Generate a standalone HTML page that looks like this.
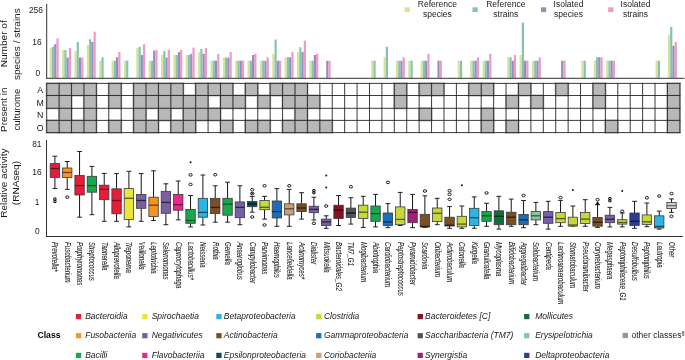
<!DOCTYPE html><html><head><meta charset="utf-8"><style>html,body{margin:0;padding:0;background:#fff;}svg{display:block;will-change:transform;}text{font-family:"Liberation Sans",sans-serif;fill:#1a1a1a;}</style></head><body>
<svg width="685" height="360" viewBox="0 0 685 360">
<rect x="49.70" y="48.00" width="2.20" height="29.90" fill="#d9e29b"/>
<rect x="51.95" y="46.70" width="2.20" height="31.20" fill="#83c5ac"/>
<rect x="54.20" y="44.20" width="2.20" height="33.70" fill="#938dc4"/>
<rect x="56.45" y="38.30" width="2.20" height="39.60" fill="#ef9ac0"/>
<rect x="62.06" y="50.00" width="2.20" height="27.90" fill="#d9e29b"/>
<rect x="64.31" y="50.00" width="2.20" height="27.90" fill="#83c5ac"/>
<rect x="66.56" y="57.50" width="2.20" height="20.40" fill="#938dc4"/>
<rect x="68.81" y="48.00" width="2.20" height="29.90" fill="#ef9ac0"/>
<rect x="74.43" y="51.00" width="2.20" height="26.90" fill="#d9e29b"/>
<rect x="76.68" y="42.00" width="2.20" height="35.90" fill="#83c5ac"/>
<rect x="78.93" y="57.50" width="2.20" height="20.40" fill="#938dc4"/>
<rect x="81.18" y="57.50" width="2.20" height="20.40" fill="#ef9ac0"/>
<rect x="86.79" y="45.00" width="2.20" height="32.90" fill="#d9e29b"/>
<rect x="89.04" y="39.20" width="2.20" height="38.70" fill="#83c5ac"/>
<rect x="91.29" y="42.00" width="2.20" height="35.90" fill="#938dc4"/>
<rect x="93.54" y="31.70" width="2.20" height="46.20" fill="#ef9ac0"/>
<rect x="99.16" y="60.70" width="2.20" height="17.20" fill="#d9e29b"/>
<rect x="101.41" y="57.30" width="2.20" height="20.60" fill="#83c5ac"/>
<rect x="111.52" y="60.70" width="2.20" height="17.20" fill="#d9e29b"/>
<rect x="113.77" y="60.70" width="2.20" height="17.20" fill="#83c5ac"/>
<rect x="116.02" y="57.30" width="2.20" height="20.60" fill="#938dc4"/>
<rect x="118.27" y="52.10" width="2.20" height="25.80" fill="#ef9ac0"/>
<rect x="123.88" y="60.70" width="2.20" height="17.20" fill="#d9e29b"/>
<rect x="126.13" y="60.70" width="2.20" height="17.20" fill="#83c5ac"/>
<rect x="136.25" y="48.10" width="2.20" height="29.80" fill="#d9e29b"/>
<rect x="138.50" y="46.80" width="2.20" height="31.10" fill="#83c5ac"/>
<rect x="140.75" y="55.00" width="2.20" height="22.90" fill="#938dc4"/>
<rect x="143.00" y="44.20" width="2.20" height="33.70" fill="#ef9ac0"/>
<rect x="148.61" y="60.70" width="2.20" height="17.20" fill="#d9e29b"/>
<rect x="150.86" y="60.70" width="2.20" height="17.20" fill="#83c5ac"/>
<rect x="153.11" y="50.70" width="2.20" height="27.20" fill="#938dc4"/>
<rect x="155.36" y="49.90" width="2.20" height="28.00" fill="#ef9ac0"/>
<rect x="160.98" y="55.00" width="2.20" height="22.90" fill="#d9e29b"/>
<rect x="163.23" y="51.10" width="2.20" height="26.80" fill="#83c5ac"/>
<rect x="165.48" y="57.60" width="2.20" height="20.30" fill="#938dc4"/>
<rect x="167.73" y="49.90" width="2.20" height="28.00" fill="#ef9ac0"/>
<rect x="173.34" y="55.00" width="2.20" height="22.90" fill="#d9e29b"/>
<rect x="175.59" y="55.00" width="2.20" height="22.90" fill="#83c5ac"/>
<rect x="177.84" y="52.10" width="2.20" height="25.80" fill="#938dc4"/>
<rect x="180.09" y="49.90" width="2.20" height="28.00" fill="#ef9ac0"/>
<rect x="185.70" y="55.00" width="2.20" height="22.90" fill="#d9e29b"/>
<rect x="187.95" y="55.00" width="2.20" height="22.90" fill="#83c5ac"/>
<rect x="190.20" y="53.80" width="2.20" height="24.10" fill="#938dc4"/>
<rect x="192.45" y="47.60" width="2.20" height="30.30" fill="#ef9ac0"/>
<rect x="198.07" y="52.10" width="2.20" height="25.80" fill="#d9e29b"/>
<rect x="200.32" y="49.00" width="2.20" height="28.90" fill="#83c5ac"/>
<rect x="202.57" y="53.80" width="2.20" height="24.10" fill="#938dc4"/>
<rect x="204.82" y="48.10" width="2.20" height="29.80" fill="#ef9ac0"/>
<rect x="210.43" y="60.70" width="2.20" height="17.20" fill="#d9e29b"/>
<rect x="212.68" y="60.70" width="2.20" height="17.20" fill="#83c5ac"/>
<rect x="214.93" y="60.70" width="2.20" height="17.20" fill="#938dc4"/>
<rect x="217.18" y="53.80" width="2.20" height="24.10" fill="#ef9ac0"/>
<rect x="222.80" y="57.60" width="2.20" height="20.30" fill="#d9e29b"/>
<rect x="225.05" y="57.60" width="2.20" height="20.30" fill="#83c5ac"/>
<rect x="227.30" y="57.60" width="2.20" height="20.30" fill="#938dc4"/>
<rect x="229.55" y="52.10" width="2.20" height="25.80" fill="#ef9ac0"/>
<rect x="235.16" y="60.70" width="2.20" height="17.20" fill="#d9e29b"/>
<rect x="237.41" y="60.70" width="2.20" height="17.20" fill="#83c5ac"/>
<rect x="239.66" y="60.70" width="2.20" height="17.20" fill="#938dc4"/>
<rect x="241.91" y="60.70" width="2.20" height="17.20" fill="#ef9ac0"/>
<rect x="247.52" y="60.70" width="2.20" height="17.20" fill="#d9e29b"/>
<rect x="249.77" y="60.70" width="2.20" height="17.20" fill="#83c5ac"/>
<rect x="252.02" y="55.00" width="2.20" height="22.90" fill="#938dc4"/>
<rect x="254.27" y="53.70" width="2.20" height="24.20" fill="#ef9ac0"/>
<rect x="259.89" y="60.70" width="2.20" height="17.20" fill="#d9e29b"/>
<rect x="262.14" y="60.70" width="2.20" height="17.20" fill="#83c5ac"/>
<rect x="264.39" y="60.70" width="2.20" height="17.20" fill="#938dc4"/>
<rect x="266.64" y="57.30" width="2.20" height="20.60" fill="#ef9ac0"/>
<rect x="272.25" y="53.80" width="2.20" height="24.10" fill="#d9e29b"/>
<rect x="274.50" y="39.50" width="2.20" height="38.40" fill="#83c5ac"/>
<rect x="276.75" y="60.70" width="2.20" height="17.20" fill="#938dc4"/>
<rect x="279.00" y="60.70" width="2.20" height="17.20" fill="#ef9ac0"/>
<rect x="284.62" y="57.30" width="2.20" height="20.60" fill="#d9e29b"/>
<rect x="286.87" y="57.30" width="2.20" height="20.60" fill="#83c5ac"/>
<rect x="289.12" y="57.30" width="2.20" height="20.60" fill="#938dc4"/>
<rect x="291.37" y="52.10" width="2.20" height="25.80" fill="#ef9ac0"/>
<rect x="296.98" y="52.10" width="2.20" height="25.80" fill="#d9e29b"/>
<rect x="299.23" y="47.30" width="2.20" height="30.60" fill="#83c5ac"/>
<rect x="301.48" y="52.10" width="2.20" height="25.80" fill="#938dc4"/>
<rect x="303.73" y="40.70" width="2.20" height="37.20" fill="#ef9ac0"/>
<rect x="309.34" y="60.70" width="2.20" height="17.20" fill="#d9e29b"/>
<rect x="311.59" y="60.70" width="2.20" height="17.20" fill="#83c5ac"/>
<rect x="313.84" y="55.00" width="2.20" height="22.90" fill="#938dc4"/>
<rect x="316.09" y="53.70" width="2.20" height="24.20" fill="#ef9ac0"/>
<rect x="326.21" y="60.70" width="2.20" height="17.20" fill="#938dc4"/>
<rect x="328.46" y="60.70" width="2.20" height="17.20" fill="#ef9ac0"/>
<rect x="371.16" y="60.70" width="2.20" height="17.20" fill="#d9e29b"/>
<rect x="373.41" y="60.70" width="2.20" height="17.20" fill="#83c5ac"/>
<rect x="383.53" y="57.30" width="2.20" height="20.60" fill="#d9e29b"/>
<rect x="385.78" y="46.80" width="2.20" height="31.10" fill="#83c5ac"/>
<rect x="395.89" y="60.70" width="2.20" height="17.20" fill="#d9e29b"/>
<rect x="398.14" y="60.70" width="2.20" height="17.20" fill="#83c5ac"/>
<rect x="400.39" y="60.70" width="2.20" height="17.20" fill="#938dc4"/>
<rect x="402.64" y="57.30" width="2.20" height="20.60" fill="#ef9ac0"/>
<rect x="408.26" y="60.70" width="2.20" height="17.20" fill="#d9e29b"/>
<rect x="410.51" y="60.70" width="2.20" height="17.20" fill="#83c5ac"/>
<rect x="420.62" y="60.70" width="2.20" height="17.20" fill="#d9e29b"/>
<rect x="422.87" y="60.70" width="2.20" height="17.20" fill="#83c5ac"/>
<rect x="425.12" y="60.70" width="2.20" height="17.20" fill="#938dc4"/>
<rect x="427.37" y="53.70" width="2.20" height="24.20" fill="#ef9ac0"/>
<rect x="437.48" y="60.70" width="2.20" height="17.20" fill="#938dc4"/>
<rect x="439.73" y="60.70" width="2.20" height="17.20" fill="#ef9ac0"/>
<rect x="457.71" y="60.70" width="2.20" height="17.20" fill="#d9e29b"/>
<rect x="459.96" y="60.70" width="2.20" height="17.20" fill="#83c5ac"/>
<rect x="470.08" y="60.70" width="2.20" height="17.20" fill="#d9e29b"/>
<rect x="472.33" y="60.70" width="2.20" height="17.20" fill="#83c5ac"/>
<rect x="474.58" y="60.70" width="2.20" height="17.20" fill="#938dc4"/>
<rect x="476.83" y="57.30" width="2.20" height="20.60" fill="#ef9ac0"/>
<rect x="482.44" y="60.70" width="2.20" height="17.20" fill="#d9e29b"/>
<rect x="484.69" y="60.70" width="2.20" height="17.20" fill="#83c5ac"/>
<rect x="486.94" y="60.70" width="2.20" height="17.20" fill="#938dc4"/>
<rect x="489.19" y="53.70" width="2.20" height="24.20" fill="#ef9ac0"/>
<rect x="507.17" y="57.30" width="2.20" height="20.60" fill="#d9e29b"/>
<rect x="509.42" y="57.30" width="2.20" height="20.60" fill="#83c5ac"/>
<rect x="511.67" y="60.70" width="2.20" height="17.20" fill="#938dc4"/>
<rect x="513.92" y="55.00" width="2.20" height="22.90" fill="#ef9ac0"/>
<rect x="519.53" y="55.00" width="2.20" height="22.90" fill="#d9e29b"/>
<rect x="521.78" y="22.60" width="2.20" height="55.30" fill="#83c5ac"/>
<rect x="524.03" y="60.70" width="2.20" height="17.20" fill="#938dc4"/>
<rect x="526.28" y="60.70" width="2.20" height="17.20" fill="#ef9ac0"/>
<rect x="531.90" y="60.70" width="2.20" height="17.20" fill="#d9e29b"/>
<rect x="534.15" y="60.70" width="2.20" height="17.20" fill="#83c5ac"/>
<rect x="536.40" y="60.70" width="2.20" height="17.20" fill="#938dc4"/>
<rect x="538.65" y="57.30" width="2.20" height="20.60" fill="#ef9ac0"/>
<rect x="561.12" y="60.70" width="2.20" height="17.20" fill="#938dc4"/>
<rect x="563.37" y="60.70" width="2.20" height="17.20" fill="#ef9ac0"/>
<rect x="581.35" y="60.70" width="2.20" height="17.20" fill="#d9e29b"/>
<rect x="583.60" y="60.70" width="2.20" height="17.20" fill="#83c5ac"/>
<rect x="593.72" y="60.70" width="2.20" height="17.20" fill="#d9e29b"/>
<rect x="595.97" y="57.30" width="2.20" height="20.60" fill="#83c5ac"/>
<rect x="598.22" y="57.30" width="2.20" height="20.60" fill="#938dc4"/>
<rect x="600.47" y="57.30" width="2.20" height="20.60" fill="#ef9ac0"/>
<rect x="606.08" y="60.70" width="2.20" height="17.20" fill="#d9e29b"/>
<rect x="608.33" y="60.70" width="2.20" height="17.20" fill="#83c5ac"/>
<rect x="610.58" y="60.70" width="2.20" height="17.20" fill="#938dc4"/>
<rect x="612.83" y="60.70" width="2.20" height="17.20" fill="#ef9ac0"/>
<rect x="655.54" y="60.70" width="2.20" height="17.20" fill="#d9e29b"/>
<rect x="657.79" y="60.70" width="2.20" height="17.20" fill="#83c5ac"/>
<rect x="667.90" y="34.60" width="2.20" height="43.30" fill="#d9e29b"/>
<rect x="670.15" y="26.90" width="2.20" height="51.00" fill="#83c5ac"/>
<rect x="672.40" y="45.80" width="2.20" height="32.10" fill="#938dc4"/>
<rect x="674.65" y="42.00" width="2.20" height="35.90" fill="#ef9ac0"/>
<line x1="46.7" y1="3.8" x2="46.7" y2="78.8" stroke="#333" stroke-width="1"/>
<line x1="46.2" y1="78.3" x2="684.5" y2="78.3" stroke="#333" stroke-width="1"/>
<text x="42.9" y="12.9" font-size="8.4" text-anchor="end">256</text>
<text x="41.6" y="45.3" font-size="8.4" text-anchor="end">16</text>
<text x="40.2" y="76.1" font-size="8.4" text-anchor="end">0</text>
<text transform="translate(7.3,67.3) rotate(-90)" font-size="8.6" textLength="47" lengthAdjust="spacingAndGlyphs">Number of</text>
<text transform="translate(19.5,80.1) rotate(-90)" font-size="9.6" textLength="71.8" lengthAdjust="spacingAndGlyphs">species / strains</text>
<rect x="404.5" y="7.3" width="5.2" height="4.8" fill="#d9e29b"/>
<text x="437.4" y="6.6" font-size="8.5" text-anchor="middle">Reference</text>
<text x="437.4" y="16.7" font-size="8.5" text-anchor="middle">species</text>
<rect x="472.5" y="7.3" width="5.2" height="4.8" fill="#83c5ac"/>
<text x="505.8" y="6.6" font-size="8.5" text-anchor="middle">Reference</text>
<text x="505.8" y="16.7" font-size="8.5" text-anchor="middle">strains</text>
<rect x="541.0" y="7.3" width="5.2" height="4.8" fill="#938dc4"/>
<text x="568.5" y="6.6" font-size="8.5" text-anchor="middle">Isolated</text>
<text x="568.5" y="16.7" font-size="8.5" text-anchor="middle">species</text>
<rect x="608.2" y="7.3" width="5.2" height="4.8" fill="#ef9ac0"/>
<text x="635.5" y="6.6" font-size="8.5" text-anchor="middle">Isolated</text>
<text x="635.5" y="16.7" font-size="8.5" text-anchor="middle">strains</text>
<rect x="46.70" y="83.40" width="12.41" height="12.10" fill="#b8b8b8" stroke="#aeaeae" stroke-width="2"/>
<rect x="46.70" y="95.50" width="12.41" height="12.80" fill="#b8b8b8" stroke="#aeaeae" stroke-width="2"/>
<rect x="46.70" y="120.40" width="12.41" height="12.20" fill="#b8b8b8" stroke="#aeaeae" stroke-width="2"/>
<rect x="59.12" y="83.40" width="12.41" height="12.10" fill="#b8b8b8" stroke="#aeaeae" stroke-width="2"/>
<rect x="59.12" y="95.50" width="12.41" height="12.80" fill="#b8b8b8" stroke="#aeaeae" stroke-width="2"/>
<rect x="59.12" y="108.30" width="12.41" height="12.10" fill="#b8b8b8" stroke="#aeaeae" stroke-width="2"/>
<rect x="59.12" y="120.40" width="12.41" height="12.20" fill="#b8b8b8" stroke="#aeaeae" stroke-width="2"/>
<rect x="71.53" y="83.40" width="12.41" height="12.10" fill="#b8b8b8" stroke="#aeaeae" stroke-width="2"/>
<rect x="71.53" y="120.40" width="12.41" height="12.20" fill="#b8b8b8" stroke="#aeaeae" stroke-width="2"/>
<rect x="83.94" y="83.40" width="12.41" height="12.10" fill="#b8b8b8" stroke="#aeaeae" stroke-width="2"/>
<rect x="83.94" y="95.50" width="12.41" height="12.80" fill="#b8b8b8" stroke="#aeaeae" stroke-width="2"/>
<rect x="83.94" y="108.30" width="12.41" height="12.10" fill="#b8b8b8" stroke="#aeaeae" stroke-width="2"/>
<rect x="83.94" y="120.40" width="12.41" height="12.20" fill="#b8b8b8" stroke="#aeaeae" stroke-width="2"/>
<rect x="108.78" y="83.40" width="12.41" height="12.10" fill="#b8b8b8" stroke="#aeaeae" stroke-width="2"/>
<rect x="108.78" y="95.50" width="12.41" height="12.80" fill="#b8b8b8" stroke="#aeaeae" stroke-width="2"/>
<rect x="108.78" y="120.40" width="12.41" height="12.20" fill="#b8b8b8" stroke="#aeaeae" stroke-width="2"/>
<rect x="133.61" y="83.40" width="12.41" height="12.10" fill="#b8b8b8" stroke="#aeaeae" stroke-width="2"/>
<rect x="133.61" y="95.50" width="12.41" height="12.80" fill="#b8b8b8" stroke="#aeaeae" stroke-width="2"/>
<rect x="133.61" y="108.30" width="12.41" height="12.10" fill="#b8b8b8" stroke="#aeaeae" stroke-width="2"/>
<rect x="133.61" y="120.40" width="12.41" height="12.20" fill="#b8b8b8" stroke="#aeaeae" stroke-width="2"/>
<rect x="146.02" y="83.40" width="12.41" height="12.10" fill="#b8b8b8" stroke="#aeaeae" stroke-width="2"/>
<rect x="146.02" y="95.50" width="12.41" height="12.80" fill="#b8b8b8" stroke="#aeaeae" stroke-width="2"/>
<rect x="146.02" y="120.40" width="12.41" height="12.20" fill="#b8b8b8" stroke="#aeaeae" stroke-width="2"/>
<rect x="158.44" y="83.40" width="12.41" height="12.10" fill="#b8b8b8" stroke="#aeaeae" stroke-width="2"/>
<rect x="158.44" y="95.50" width="12.41" height="12.80" fill="#b8b8b8" stroke="#aeaeae" stroke-width="2"/>
<rect x="158.44" y="108.30" width="12.41" height="12.10" fill="#b8b8b8" stroke="#aeaeae" stroke-width="2"/>
<rect x="170.85" y="83.40" width="12.41" height="12.10" fill="#b8b8b8" stroke="#aeaeae" stroke-width="2"/>
<rect x="170.85" y="95.50" width="12.41" height="12.80" fill="#b8b8b8" stroke="#aeaeae" stroke-width="2"/>
<rect x="170.85" y="120.40" width="12.41" height="12.20" fill="#b8b8b8" stroke="#aeaeae" stroke-width="2"/>
<rect x="183.26" y="95.50" width="12.41" height="12.80" fill="#b8b8b8" stroke="#aeaeae" stroke-width="2"/>
<rect x="183.26" y="108.30" width="12.41" height="12.10" fill="#b8b8b8" stroke="#aeaeae" stroke-width="2"/>
<rect x="183.26" y="120.40" width="12.41" height="12.20" fill="#b8b8b8" stroke="#aeaeae" stroke-width="2"/>
<rect x="195.68" y="83.40" width="12.41" height="12.10" fill="#b8b8b8" stroke="#aeaeae" stroke-width="2"/>
<rect x="195.68" y="95.50" width="12.41" height="12.80" fill="#b8b8b8" stroke="#aeaeae" stroke-width="2"/>
<rect x="195.68" y="108.30" width="12.41" height="12.10" fill="#b8b8b8" stroke="#aeaeae" stroke-width="2"/>
<rect x="208.09" y="83.40" width="12.41" height="12.10" fill="#b8b8b8" stroke="#aeaeae" stroke-width="2"/>
<rect x="208.09" y="108.30" width="12.41" height="12.10" fill="#b8b8b8" stroke="#aeaeae" stroke-width="2"/>
<rect x="220.51" y="83.40" width="12.41" height="12.10" fill="#b8b8b8" stroke="#aeaeae" stroke-width="2"/>
<rect x="220.51" y="95.50" width="12.41" height="12.80" fill="#b8b8b8" stroke="#aeaeae" stroke-width="2"/>
<rect x="220.51" y="120.40" width="12.41" height="12.20" fill="#b8b8b8" stroke="#aeaeae" stroke-width="2"/>
<rect x="232.93" y="95.50" width="12.41" height="12.80" fill="#b8b8b8" stroke="#aeaeae" stroke-width="2"/>
<rect x="245.34" y="83.40" width="12.41" height="12.10" fill="#b8b8b8" stroke="#aeaeae" stroke-width="2"/>
<rect x="245.34" y="120.40" width="12.41" height="12.20" fill="#b8b8b8" stroke="#aeaeae" stroke-width="2"/>
<rect x="257.75" y="95.50" width="12.41" height="12.80" fill="#b8b8b8" stroke="#aeaeae" stroke-width="2"/>
<rect x="257.75" y="120.40" width="12.41" height="12.20" fill="#b8b8b8" stroke="#aeaeae" stroke-width="2"/>
<rect x="270.17" y="83.40" width="12.41" height="12.10" fill="#b8b8b8" stroke="#aeaeae" stroke-width="2"/>
<rect x="282.58" y="83.40" width="12.41" height="12.10" fill="#b8b8b8" stroke="#aeaeae" stroke-width="2"/>
<rect x="282.58" y="95.50" width="12.41" height="12.80" fill="#b8b8b8" stroke="#aeaeae" stroke-width="2"/>
<rect x="282.58" y="120.40" width="12.41" height="12.20" fill="#b8b8b8" stroke="#aeaeae" stroke-width="2"/>
<rect x="295.00" y="83.40" width="12.41" height="12.10" fill="#b8b8b8" stroke="#aeaeae" stroke-width="2"/>
<rect x="295.00" y="95.50" width="12.41" height="12.80" fill="#b8b8b8" stroke="#aeaeae" stroke-width="2"/>
<rect x="295.00" y="108.30" width="12.41" height="12.10" fill="#b8b8b8" stroke="#aeaeae" stroke-width="2"/>
<rect x="295.00" y="120.40" width="12.41" height="12.20" fill="#b8b8b8" stroke="#aeaeae" stroke-width="2"/>
<rect x="307.41" y="95.50" width="12.41" height="12.80" fill="#b8b8b8" stroke="#aeaeae" stroke-width="2"/>
<rect x="307.41" y="120.40" width="12.41" height="12.20" fill="#b8b8b8" stroke="#aeaeae" stroke-width="2"/>
<rect x="319.83" y="120.40" width="12.41" height="12.20" fill="#b8b8b8" stroke="#aeaeae" stroke-width="2"/>
<rect x="394.32" y="83.40" width="12.41" height="12.10" fill="#b8b8b8" stroke="#aeaeae" stroke-width="2"/>
<rect x="394.32" y="95.50" width="12.41" height="12.80" fill="#b8b8b8" stroke="#aeaeae" stroke-width="2"/>
<rect x="419.15" y="83.40" width="12.41" height="12.10" fill="#b8b8b8" stroke="#aeaeae" stroke-width="2"/>
<rect x="419.15" y="108.30" width="12.41" height="12.10" fill="#b8b8b8" stroke="#aeaeae" stroke-width="2"/>
<rect x="431.56" y="83.40" width="12.41" height="12.10" fill="#b8b8b8" stroke="#aeaeae" stroke-width="2"/>
<rect x="468.81" y="83.40" width="12.41" height="12.10" fill="#b8b8b8" stroke="#aeaeae" stroke-width="2"/>
<rect x="481.22" y="83.40" width="12.41" height="12.10" fill="#b8b8b8" stroke="#aeaeae" stroke-width="2"/>
<rect x="481.22" y="108.30" width="12.41" height="12.10" fill="#b8b8b8" stroke="#aeaeae" stroke-width="2"/>
<rect x="481.22" y="120.40" width="12.41" height="12.20" fill="#b8b8b8" stroke="#aeaeae" stroke-width="2"/>
<rect x="506.05" y="95.50" width="12.41" height="12.80" fill="#b8b8b8" stroke="#aeaeae" stroke-width="2"/>
<rect x="506.05" y="120.40" width="12.41" height="12.20" fill="#b8b8b8" stroke="#aeaeae" stroke-width="2"/>
<rect x="518.47" y="83.40" width="12.41" height="12.10" fill="#b8b8b8" stroke="#aeaeae" stroke-width="2"/>
<rect x="530.88" y="95.50" width="12.41" height="12.80" fill="#b8b8b8" stroke="#aeaeae" stroke-width="2"/>
<rect x="555.72" y="83.40" width="12.41" height="12.10" fill="#b8b8b8" stroke="#aeaeae" stroke-width="2"/>
<rect x="592.96" y="83.40" width="12.41" height="12.10" fill="#b8b8b8" stroke="#aeaeae" stroke-width="2"/>
<rect x="592.96" y="95.50" width="12.41" height="12.80" fill="#b8b8b8" stroke="#aeaeae" stroke-width="2"/>
<rect x="605.38" y="120.40" width="12.41" height="12.20" fill="#b8b8b8" stroke="#aeaeae" stroke-width="2"/>
<rect x="667.45" y="83.40" width="12.41" height="12.10" fill="#b8b8b8" stroke="#aeaeae" stroke-width="2"/>
<rect x="667.45" y="95.50" width="12.41" height="12.80" fill="#b8b8b8" stroke="#aeaeae" stroke-width="2"/>
<rect x="667.45" y="108.30" width="12.41" height="12.10" fill="#b8b8b8" stroke="#aeaeae" stroke-width="2"/>
<rect x="667.45" y="120.40" width="12.41" height="12.20" fill="#b8b8b8" stroke="#aeaeae" stroke-width="2"/>
<line x1="46.70" y1="82.90" x2="46.70" y2="133.10" stroke="#262626" stroke-width="0.9"/>
<line x1="59.12" y1="82.90" x2="59.12" y2="133.10" stroke="#262626" stroke-width="0.9"/>
<line x1="71.53" y1="82.90" x2="71.53" y2="133.10" stroke="#262626" stroke-width="0.9"/>
<line x1="83.94" y1="82.90" x2="83.94" y2="133.10" stroke="#262626" stroke-width="0.9"/>
<line x1="96.36" y1="82.90" x2="96.36" y2="133.10" stroke="#262626" stroke-width="0.9"/>
<line x1="108.78" y1="82.90" x2="108.78" y2="133.10" stroke="#262626" stroke-width="0.9"/>
<line x1="121.19" y1="82.90" x2="121.19" y2="133.10" stroke="#262626" stroke-width="0.9"/>
<line x1="133.61" y1="82.90" x2="133.61" y2="133.10" stroke="#262626" stroke-width="0.9"/>
<line x1="146.02" y1="82.90" x2="146.02" y2="133.10" stroke="#262626" stroke-width="0.9"/>
<line x1="158.44" y1="82.90" x2="158.44" y2="133.10" stroke="#262626" stroke-width="0.9"/>
<line x1="170.85" y1="82.90" x2="170.85" y2="133.10" stroke="#262626" stroke-width="0.9"/>
<line x1="183.26" y1="82.90" x2="183.26" y2="133.10" stroke="#262626" stroke-width="0.9"/>
<line x1="195.68" y1="82.90" x2="195.68" y2="133.10" stroke="#262626" stroke-width="0.9"/>
<line x1="208.09" y1="82.90" x2="208.09" y2="133.10" stroke="#262626" stroke-width="0.9"/>
<line x1="220.51" y1="82.90" x2="220.51" y2="133.10" stroke="#262626" stroke-width="0.9"/>
<line x1="232.93" y1="82.90" x2="232.93" y2="133.10" stroke="#262626" stroke-width="0.9"/>
<line x1="245.34" y1="82.90" x2="245.34" y2="133.10" stroke="#262626" stroke-width="0.9"/>
<line x1="257.75" y1="82.90" x2="257.75" y2="133.10" stroke="#262626" stroke-width="0.9"/>
<line x1="270.17" y1="82.90" x2="270.17" y2="133.10" stroke="#262626" stroke-width="0.9"/>
<line x1="282.58" y1="82.90" x2="282.58" y2="133.10" stroke="#262626" stroke-width="0.9"/>
<line x1="295.00" y1="82.90" x2="295.00" y2="133.10" stroke="#262626" stroke-width="0.9"/>
<line x1="307.41" y1="82.90" x2="307.41" y2="133.10" stroke="#262626" stroke-width="0.9"/>
<line x1="319.83" y1="82.90" x2="319.83" y2="133.10" stroke="#262626" stroke-width="0.9"/>
<line x1="332.24" y1="82.90" x2="332.24" y2="133.10" stroke="#262626" stroke-width="0.9"/>
<line x1="344.66" y1="82.90" x2="344.66" y2="133.10" stroke="#262626" stroke-width="0.9"/>
<line x1="357.07" y1="82.90" x2="357.07" y2="133.10" stroke="#262626" stroke-width="0.9"/>
<line x1="369.49" y1="82.90" x2="369.49" y2="133.10" stroke="#262626" stroke-width="0.9"/>
<line x1="381.90" y1="82.90" x2="381.90" y2="133.10" stroke="#262626" stroke-width="0.9"/>
<line x1="394.32" y1="82.90" x2="394.32" y2="133.10" stroke="#262626" stroke-width="0.9"/>
<line x1="406.73" y1="82.90" x2="406.73" y2="133.10" stroke="#262626" stroke-width="0.9"/>
<line x1="419.15" y1="82.90" x2="419.15" y2="133.10" stroke="#262626" stroke-width="0.9"/>
<line x1="431.56" y1="82.90" x2="431.56" y2="133.10" stroke="#262626" stroke-width="0.9"/>
<line x1="443.98" y1="82.90" x2="443.98" y2="133.10" stroke="#262626" stroke-width="0.9"/>
<line x1="456.39" y1="82.90" x2="456.39" y2="133.10" stroke="#262626" stroke-width="0.9"/>
<line x1="468.81" y1="82.90" x2="468.81" y2="133.10" stroke="#262626" stroke-width="0.9"/>
<line x1="481.22" y1="82.90" x2="481.22" y2="133.10" stroke="#262626" stroke-width="0.9"/>
<line x1="493.64" y1="82.90" x2="493.64" y2="133.10" stroke="#262626" stroke-width="0.9"/>
<line x1="506.05" y1="82.90" x2="506.05" y2="133.10" stroke="#262626" stroke-width="0.9"/>
<line x1="518.47" y1="82.90" x2="518.47" y2="133.10" stroke="#262626" stroke-width="0.9"/>
<line x1="530.88" y1="82.90" x2="530.88" y2="133.10" stroke="#262626" stroke-width="0.9"/>
<line x1="543.30" y1="82.90" x2="543.30" y2="133.10" stroke="#262626" stroke-width="0.9"/>
<line x1="555.72" y1="82.90" x2="555.72" y2="133.10" stroke="#262626" stroke-width="0.9"/>
<line x1="568.13" y1="82.90" x2="568.13" y2="133.10" stroke="#262626" stroke-width="0.9"/>
<line x1="580.54" y1="82.90" x2="580.54" y2="133.10" stroke="#262626" stroke-width="0.9"/>
<line x1="592.96" y1="82.90" x2="592.96" y2="133.10" stroke="#262626" stroke-width="0.9"/>
<line x1="605.38" y1="82.90" x2="605.38" y2="133.10" stroke="#262626" stroke-width="0.9"/>
<line x1="617.79" y1="82.90" x2="617.79" y2="133.10" stroke="#262626" stroke-width="0.9"/>
<line x1="630.21" y1="82.90" x2="630.21" y2="133.10" stroke="#262626" stroke-width="0.9"/>
<line x1="642.62" y1="82.90" x2="642.62" y2="133.10" stroke="#262626" stroke-width="0.9"/>
<line x1="655.03" y1="82.90" x2="655.03" y2="133.10" stroke="#262626" stroke-width="0.9"/>
<line x1="667.45" y1="82.90" x2="667.45" y2="133.10" stroke="#262626" stroke-width="0.9"/>
<line x1="679.87" y1="82.90" x2="679.87" y2="133.10" stroke="#262626" stroke-width="0.9"/>
<line x1="46.20" y1="83.40" x2="680.37" y2="83.40" stroke="#262626" stroke-width="0.9"/>
<line x1="46.20" y1="95.50" x2="680.37" y2="95.50" stroke="#262626" stroke-width="0.9"/>
<line x1="46.20" y1="108.30" x2="680.37" y2="108.30" stroke="#262626" stroke-width="0.9"/>
<line x1="46.20" y1="120.40" x2="680.37" y2="120.40" stroke="#262626" stroke-width="0.9"/>
<line x1="46.20" y1="132.60" x2="680.37" y2="132.60" stroke="#262626" stroke-width="0.9"/>
<text x="40.1" y="93.45" font-size="8.8" text-anchor="middle">A</text>
<text x="40.1" y="105.90" font-size="8.8" text-anchor="middle">M</text>
<text x="40.1" y="118.35" font-size="8.8" text-anchor="middle">N</text>
<text x="40.1" y="130.50" font-size="8.8" text-anchor="middle">O</text>
<text transform="translate(6.9,131.9) rotate(-90)" font-size="8.7" textLength="44.3" lengthAdjust="spacingAndGlyphs">Present in</text>
<text transform="translate(19.6,130.6) rotate(-90)" font-size="9.6" textLength="41.8" lengthAdjust="spacingAndGlyphs">culturome</text>
<line x1="46.5" y1="140" x2="46.5" y2="237" stroke="#333" stroke-width="1"/>
<line x1="46" y1="236.5" x2="683" y2="236.5" stroke="#333" stroke-width="1"/>
<text x="41.5" y="146.7" font-size="8.4" text-anchor="end">81</text>
<text x="41.6" y="175.3" font-size="8.4" text-anchor="end">16</text>
<text x="39.4" y="204.7" font-size="8.4" text-anchor="end">1</text>
<text x="39.6" y="234" font-size="8.4" text-anchor="end">0</text>
<text transform="translate(6.9,217.7) rotate(-90)" font-size="8.6" textLength="69.3" lengthAdjust="spacingAndGlyphs">Relative activity</text>
<text transform="translate(18.7,205.2) rotate(-90)" font-size="9.0" textLength="44.2" lengthAdjust="spacingAndGlyphs">(RNAseq)</text>
<line x1="54.90" y1="156.20" x2="54.90" y2="163.60" stroke="#151515" stroke-width="1"/>
<line x1="54.90" y1="177.40" x2="54.90" y2="188.50" stroke="#151515" stroke-width="1"/>
<line x1="52.50" y1="156.20" x2="57.30" y2="156.20" stroke="#222" stroke-width="1"/>
<line x1="52.50" y1="188.50" x2="57.30" y2="188.50" stroke="#222" stroke-width="1"/>
<rect x="50.20" y="163.60" width="9.40" height="13.80" fill="#e41e3a" stroke="#3a3a3a" stroke-width="0.8"/>
<line x1="50.20" y1="168.60" x2="59.60" y2="168.60" stroke="#7a0e1c" stroke-width="1.3"/>
<circle cx="54.90" cy="199.00" r="1.2" fill="none" stroke="#151515" stroke-width="1.1"/>
<circle cx="54.90" cy="201.40" r="1.2" fill="none" stroke="#151515" stroke-width="1.1"/>
<line x1="67.23" y1="161.50" x2="67.23" y2="168.00" stroke="#151515" stroke-width="1"/>
<line x1="67.23" y1="177.40" x2="67.23" y2="189.40" stroke="#151515" stroke-width="1"/>
<line x1="64.83" y1="161.50" x2="69.63" y2="161.50" stroke="#222" stroke-width="1"/>
<line x1="64.83" y1="189.40" x2="69.63" y2="189.40" stroke="#222" stroke-width="1"/>
<rect x="62.53" y="168.00" width="9.40" height="9.40" fill="#f7941d" stroke="#3a3a3a" stroke-width="0.8"/>
<line x1="62.53" y1="172.50" x2="71.93" y2="172.50" stroke="#6e3c08" stroke-width="1.3"/>
<ellipse cx="67.23" cy="197.20" rx="1.65" ry="1.3" fill="none" stroke="#151515" stroke-width="0.95"/>
<line x1="79.57" y1="151.50" x2="79.57" y2="175.50" stroke="#151515" stroke-width="1"/>
<line x1="79.57" y1="195.00" x2="79.57" y2="217.20" stroke="#151515" stroke-width="1"/>
<line x1="77.17" y1="151.50" x2="81.97" y2="151.50" stroke="#222" stroke-width="1"/>
<line x1="77.17" y1="217.20" x2="81.97" y2="217.20" stroke="#222" stroke-width="1"/>
<rect x="74.87" y="175.50" width="9.40" height="19.50" fill="#e41e3a" stroke="#3a3a3a" stroke-width="0.8"/>
<line x1="74.87" y1="185.60" x2="84.27" y2="185.60" stroke="#7a0e1c" stroke-width="1.3"/>
<line x1="91.90" y1="166.40" x2="91.90" y2="176.30" stroke="#151515" stroke-width="1"/>
<line x1="91.90" y1="192.20" x2="91.90" y2="214.70" stroke="#151515" stroke-width="1"/>
<line x1="89.50" y1="166.40" x2="94.30" y2="166.40" stroke="#222" stroke-width="1"/>
<line x1="89.50" y1="214.70" x2="94.30" y2="214.70" stroke="#222" stroke-width="1"/>
<rect x="87.20" y="176.30" width="9.40" height="15.90" fill="#17a94d" stroke="#3a3a3a" stroke-width="0.8"/>
<line x1="87.20" y1="185.60" x2="96.60" y2="185.60" stroke="#0b4f24" stroke-width="1.3"/>
<line x1="104.23" y1="173.40" x2="104.23" y2="185.20" stroke="#151515" stroke-width="1"/>
<line x1="104.23" y1="199.70" x2="104.23" y2="221.30" stroke="#151515" stroke-width="1"/>
<line x1="101.83" y1="173.40" x2="106.63" y2="173.40" stroke="#222" stroke-width="1"/>
<line x1="101.83" y1="221.30" x2="106.63" y2="221.30" stroke="#222" stroke-width="1"/>
<rect x="99.53" y="185.20" width="9.40" height="14.50" fill="#e41e3a" stroke="#3a3a3a" stroke-width="0.8"/>
<line x1="99.53" y1="189.40" x2="108.93" y2="189.40" stroke="#7a0e1c" stroke-width="1.3"/>
<line x1="116.56" y1="173.60" x2="116.56" y2="188.80" stroke="#151515" stroke-width="1"/>
<line x1="116.56" y1="213.80" x2="116.56" y2="221.30" stroke="#151515" stroke-width="1"/>
<line x1="114.16" y1="173.60" x2="118.97" y2="173.60" stroke="#222" stroke-width="1"/>
<line x1="114.16" y1="221.30" x2="118.97" y2="221.30" stroke="#222" stroke-width="1"/>
<rect x="111.87" y="188.80" width="9.40" height="25.00" fill="#e41e3a" stroke="#3a3a3a" stroke-width="0.8"/>
<line x1="111.87" y1="200.50" x2="121.27" y2="200.50" stroke="#7a0e1c" stroke-width="1.3"/>
<line x1="128.90" y1="171.30" x2="128.90" y2="188.60" stroke="#151515" stroke-width="1"/>
<line x1="128.90" y1="219.40" x2="128.90" y2="226.90" stroke="#151515" stroke-width="1"/>
<line x1="126.50" y1="171.30" x2="131.30" y2="171.30" stroke="#222" stroke-width="1"/>
<line x1="126.50" y1="226.90" x2="131.30" y2="226.90" stroke="#222" stroke-width="1"/>
<rect x="124.20" y="188.60" width="9.40" height="30.80" fill="#ebe53a" stroke="#3a3a3a" stroke-width="0.8"/>
<line x1="124.20" y1="198.30" x2="133.60" y2="198.30" stroke="#5a5610" stroke-width="1.3"/>
<line x1="141.23" y1="173.60" x2="141.23" y2="194.40" stroke="#151515" stroke-width="1"/>
<line x1="141.23" y1="208.30" x2="141.23" y2="221.30" stroke="#151515" stroke-width="1"/>
<line x1="138.83" y1="173.60" x2="143.63" y2="173.60" stroke="#222" stroke-width="1"/>
<line x1="138.83" y1="221.30" x2="143.63" y2="221.30" stroke="#222" stroke-width="1"/>
<rect x="136.53" y="194.40" width="9.40" height="13.90" fill="#7a5fa6" stroke="#3a3a3a" stroke-width="0.8"/>
<line x1="136.53" y1="200.50" x2="145.93" y2="200.50" stroke="#2c2040" stroke-width="1.3"/>
<line x1="153.56" y1="170.80" x2="153.56" y2="197.20" stroke="#151515" stroke-width="1"/>
<line x1="153.56" y1="216.60" x2="153.56" y2="220.50" stroke="#151515" stroke-width="1"/>
<line x1="151.16" y1="170.80" x2="155.96" y2="170.80" stroke="#222" stroke-width="1"/>
<line x1="151.16" y1="220.50" x2="155.96" y2="220.50" stroke="#222" stroke-width="1"/>
<rect x="148.86" y="197.20" width="9.40" height="19.40" fill="#f7941d" stroke="#3a3a3a" stroke-width="0.8"/>
<line x1="148.86" y1="205.20" x2="158.26" y2="205.20" stroke="#6e3c08" stroke-width="1.3"/>
<line x1="165.90" y1="183.80" x2="165.90" y2="191.30" stroke="#151515" stroke-width="1"/>
<line x1="165.90" y1="213.30" x2="165.90" y2="224.70" stroke="#151515" stroke-width="1"/>
<line x1="163.50" y1="183.80" x2="168.30" y2="183.80" stroke="#222" stroke-width="1"/>
<line x1="163.50" y1="224.70" x2="168.30" y2="224.70" stroke="#222" stroke-width="1"/>
<rect x="161.20" y="191.30" width="9.40" height="22.00" fill="#7a5fa6" stroke="#3a3a3a" stroke-width="0.8"/>
<line x1="161.20" y1="202.40" x2="170.60" y2="202.40" stroke="#2c2040" stroke-width="1.3"/>
<line x1="178.23" y1="181.00" x2="178.23" y2="194.40" stroke="#151515" stroke-width="1"/>
<line x1="178.23" y1="210.20" x2="178.23" y2="219.90" stroke="#151515" stroke-width="1"/>
<line x1="175.83" y1="181.00" x2="180.63" y2="181.00" stroke="#222" stroke-width="1"/>
<line x1="175.83" y1="219.90" x2="180.63" y2="219.90" stroke="#222" stroke-width="1"/>
<rect x="173.53" y="194.40" width="9.40" height="15.80" fill="#e8288a" stroke="#3a3a3a" stroke-width="0.8"/>
<line x1="173.53" y1="204.70" x2="182.93" y2="204.70" stroke="#6c1240" stroke-width="1.3"/>
<line x1="190.56" y1="195.50" x2="190.56" y2="209.40" stroke="#151515" stroke-width="1"/>
<line x1="190.56" y1="223.30" x2="190.56" y2="226.90" stroke="#151515" stroke-width="1"/>
<line x1="188.16" y1="195.50" x2="192.96" y2="195.50" stroke="#222" stroke-width="1"/>
<line x1="188.16" y1="226.90" x2="192.96" y2="226.90" stroke="#222" stroke-width="1"/>
<rect x="185.86" y="209.40" width="9.40" height="13.90" fill="#17a94d" stroke="#3a3a3a" stroke-width="0.8"/>
<line x1="185.86" y1="220.50" x2="195.26" y2="220.50" stroke="#0b4f24" stroke-width="1.3"/>
<circle cx="190.56" cy="162.20" r="1.0" fill="#151515"/>
<ellipse cx="190.56" cy="174.90" rx="1.65" ry="1.3" fill="none" stroke="#151515" stroke-width="0.95"/>
<ellipse cx="190.56" cy="184.40" rx="1.65" ry="1.3" fill="none" stroke="#151515" stroke-width="0.95"/>
<line x1="202.90" y1="175.00" x2="202.90" y2="198.30" stroke="#151515" stroke-width="1"/>
<line x1="202.90" y1="217.20" x2="202.90" y2="225.00" stroke="#151515" stroke-width="1"/>
<line x1="200.50" y1="175.00" x2="205.30" y2="175.00" stroke="#222" stroke-width="1"/>
<line x1="200.50" y1="225.00" x2="205.30" y2="225.00" stroke="#222" stroke-width="1"/>
<rect x="198.20" y="198.30" width="9.40" height="18.90" fill="#2cb5e4" stroke="#3a3a3a" stroke-width="0.8"/>
<line x1="198.20" y1="212.40" x2="207.60" y2="212.40" stroke="#124e63" stroke-width="1.3"/>
<line x1="215.23" y1="185.80" x2="215.23" y2="198.30" stroke="#151515" stroke-width="1"/>
<line x1="215.23" y1="213.60" x2="215.23" y2="222.20" stroke="#151515" stroke-width="1"/>
<line x1="212.83" y1="185.80" x2="217.63" y2="185.80" stroke="#222" stroke-width="1"/>
<line x1="212.83" y1="222.20" x2="217.63" y2="222.20" stroke="#222" stroke-width="1"/>
<rect x="210.53" y="198.30" width="9.40" height="15.30" fill="#7b4f24" stroke="#3a3a3a" stroke-width="0.8"/>
<line x1="210.53" y1="207.40" x2="219.93" y2="207.40" stroke="#2e1c0c" stroke-width="1.3"/>
<ellipse cx="215.23" cy="174.70" rx="1.65" ry="1.3" fill="none" stroke="#151515" stroke-width="0.95"/>
<line x1="227.56" y1="182.20" x2="227.56" y2="198.30" stroke="#151515" stroke-width="1"/>
<line x1="227.56" y1="215.20" x2="227.56" y2="222.20" stroke="#151515" stroke-width="1"/>
<line x1="225.16" y1="182.20" x2="229.96" y2="182.20" stroke="#222" stroke-width="1"/>
<line x1="225.16" y1="222.20" x2="229.96" y2="222.20" stroke="#222" stroke-width="1"/>
<rect x="222.86" y="198.30" width="9.40" height="16.90" fill="#17a94d" stroke="#3a3a3a" stroke-width="0.8"/>
<line x1="222.86" y1="204.10" x2="232.26" y2="204.10" stroke="#0b4f24" stroke-width="1.3"/>
<line x1="239.90" y1="185.80" x2="239.90" y2="201.90" stroke="#151515" stroke-width="1"/>
<line x1="239.90" y1="217.70" x2="239.90" y2="224.70" stroke="#151515" stroke-width="1"/>
<line x1="237.50" y1="185.80" x2="242.30" y2="185.80" stroke="#222" stroke-width="1"/>
<line x1="237.50" y1="224.70" x2="242.30" y2="224.70" stroke="#222" stroke-width="1"/>
<rect x="235.20" y="201.90" width="9.40" height="15.80" fill="#7a5fa6" stroke="#3a3a3a" stroke-width="0.8"/>
<line x1="235.20" y1="207.40" x2="244.59" y2="207.40" stroke="#2c2040" stroke-width="1.3"/>
<line x1="252.23" y1="196.40" x2="252.23" y2="201.40" stroke="#151515" stroke-width="1"/>
<line x1="252.23" y1="206.70" x2="252.23" y2="212.20" stroke="#151515" stroke-width="1"/>
<line x1="249.83" y1="196.40" x2="254.63" y2="196.40" stroke="#222" stroke-width="1"/>
<line x1="249.83" y1="212.20" x2="254.63" y2="212.20" stroke="#222" stroke-width="1"/>
<rect x="247.53" y="201.40" width="9.40" height="5.30" fill="#0f4e56" stroke="#3a3a3a" stroke-width="0.8"/>
<line x1="247.53" y1="203.90" x2="256.93" y2="203.90" stroke="#021c20" stroke-width="1.3"/>
<ellipse cx="252.23" cy="189.70" rx="1.65" ry="1.3" fill="none" stroke="#151515" stroke-width="0.95"/>
<ellipse cx="252.23" cy="193.60" rx="1.65" ry="1.3" fill="none" stroke="#151515" stroke-width="0.95"/>
<path d="M250.73 194.60l3 -2M250.73 192.60l3 2" stroke="#222" stroke-width="0.7"/>
<ellipse cx="252.23" cy="217.00" rx="1.65" ry="1.3" fill="none" stroke="#151515" stroke-width="0.95"/>
<line x1="264.56" y1="196.30" x2="264.56" y2="200.50" stroke="#151515" stroke-width="1"/>
<line x1="264.56" y1="209.70" x2="264.56" y2="219.10" stroke="#151515" stroke-width="1"/>
<line x1="262.16" y1="196.30" x2="266.96" y2="196.30" stroke="#222" stroke-width="1"/>
<line x1="262.16" y1="219.10" x2="266.96" y2="219.10" stroke="#222" stroke-width="1"/>
<rect x="259.86" y="200.50" width="9.40" height="9.20" fill="#c6d83c" stroke="#3a3a3a" stroke-width="0.8"/>
<line x1="259.86" y1="207.30" x2="269.26" y2="207.30" stroke="#515c12" stroke-width="1.3"/>
<ellipse cx="264.56" cy="185.80" rx="1.65" ry="1.3" fill="none" stroke="#151515" stroke-width="0.95"/>
<ellipse cx="264.56" cy="225.00" rx="1.65" ry="1.3" fill="none" stroke="#151515" stroke-width="0.95"/>
<line x1="276.89" y1="188.60" x2="276.89" y2="201.00" stroke="#151515" stroke-width="1"/>
<line x1="276.89" y1="218.00" x2="276.89" y2="226.30" stroke="#151515" stroke-width="1"/>
<line x1="274.49" y1="188.60" x2="279.29" y2="188.60" stroke="#222" stroke-width="1"/>
<line x1="274.49" y1="226.30" x2="279.29" y2="226.30" stroke="#222" stroke-width="1"/>
<rect x="272.19" y="201.00" width="9.40" height="17.00" fill="#1a6fbd" stroke="#3a3a3a" stroke-width="0.8"/>
<line x1="272.19" y1="211.60" x2="281.59" y2="211.60" stroke="#0b2f52" stroke-width="1.3"/>
<line x1="289.23" y1="189.40" x2="289.23" y2="203.80" stroke="#151515" stroke-width="1"/>
<line x1="289.23" y1="214.90" x2="289.23" y2="226.30" stroke="#151515" stroke-width="1"/>
<line x1="286.83" y1="189.40" x2="291.63" y2="189.40" stroke="#222" stroke-width="1"/>
<line x1="286.83" y1="226.30" x2="291.63" y2="226.30" stroke="#222" stroke-width="1"/>
<rect x="284.53" y="203.80" width="9.40" height="11.10" fill="#c99f7b" stroke="#3a3a3a" stroke-width="0.8"/>
<line x1="284.53" y1="208.80" x2="293.93" y2="208.80" stroke="#5a4535" stroke-width="1.3"/>
<ellipse cx="289.23" cy="185.80" rx="1.65" ry="1.3" fill="none" stroke="#151515" stroke-width="0.95"/>
<line x1="301.56" y1="192.70" x2="301.56" y2="203.80" stroke="#151515" stroke-width="1"/>
<line x1="301.56" y1="211.60" x2="301.56" y2="219.10" stroke="#151515" stroke-width="1"/>
<line x1="299.16" y1="192.70" x2="303.96" y2="192.70" stroke="#222" stroke-width="1"/>
<line x1="299.16" y1="219.10" x2="303.96" y2="219.10" stroke="#222" stroke-width="1"/>
<rect x="296.86" y="203.80" width="9.40" height="7.80" fill="#7b4f24" stroke="#3a3a3a" stroke-width="0.8"/>
<line x1="296.86" y1="208.00" x2="306.26" y2="208.00" stroke="#2e1c0c" stroke-width="1.3"/>
<line x1="313.89" y1="197.20" x2="313.89" y2="206.20" stroke="#151515" stroke-width="1"/>
<line x1="313.89" y1="212.70" x2="313.89" y2="220.00" stroke="#151515" stroke-width="1"/>
<line x1="311.49" y1="197.20" x2="316.29" y2="197.20" stroke="#222" stroke-width="1"/>
<line x1="311.49" y1="220.00" x2="316.29" y2="220.00" stroke="#222" stroke-width="1"/>
<rect x="309.19" y="206.20" width="9.40" height="6.50" fill="#7a5fa6" stroke="#3a3a3a" stroke-width="0.8"/>
<line x1="309.19" y1="209.40" x2="318.59" y2="209.40" stroke="#2c2040" stroke-width="1.3"/>
<circle cx="313.89" cy="190.40" r="1.2" fill="none" stroke="#151515" stroke-width="1.1"/>
<circle cx="313.89" cy="192.80" r="1.2" fill="none" stroke="#151515" stroke-width="1.1"/>
<ellipse cx="313.89" cy="223.30" rx="1.65" ry="1.3" fill="none" stroke="#151515" stroke-width="0.95"/>
<line x1="326.23" y1="215.80" x2="326.23" y2="219.10" stroke="#151515" stroke-width="1"/>
<line x1="326.23" y1="225.50" x2="326.23" y2="228.30" stroke="#151515" stroke-width="1"/>
<line x1="323.83" y1="215.80" x2="328.63" y2="215.80" stroke="#222" stroke-width="1"/>
<line x1="323.83" y1="228.30" x2="328.63" y2="228.30" stroke="#222" stroke-width="1"/>
<rect x="321.53" y="219.10" width="9.40" height="6.40" fill="#7a5fa6" stroke="#3a3a3a" stroke-width="0.8"/>
<line x1="321.53" y1="221.90" x2="330.93" y2="221.90" stroke="#2c2040" stroke-width="1.3"/>
<circle cx="326.23" cy="175.50" r="1.0" fill="#151515"/>
<circle cx="326.23" cy="187.40" r="1.0" fill="#151515"/>
<ellipse cx="326.23" cy="206.00" rx="1.65" ry="1.3" fill="none" stroke="#151515" stroke-width="0.95"/>
<line x1="338.56" y1="195.50" x2="338.56" y2="205.20" stroke="#151515" stroke-width="1"/>
<line x1="338.56" y1="218.60" x2="338.56" y2="225.50" stroke="#151515" stroke-width="1"/>
<line x1="336.16" y1="195.50" x2="340.96" y2="195.50" stroke="#222" stroke-width="1"/>
<line x1="336.16" y1="225.50" x2="340.96" y2="225.50" stroke="#222" stroke-width="1"/>
<rect x="333.86" y="205.20" width="9.40" height="13.40" fill="#8b0f1d" stroke="#3a3a3a" stroke-width="0.8"/>
<line x1="333.86" y1="210.20" x2="343.26" y2="210.20" stroke="#3a050b" stroke-width="1.3"/>
<line x1="350.89" y1="197.70" x2="350.89" y2="208.10" stroke="#151515" stroke-width="1"/>
<line x1="350.89" y1="217.40" x2="350.89" y2="224.10" stroke="#151515" stroke-width="1"/>
<line x1="348.49" y1="197.70" x2="353.29" y2="197.70" stroke="#222" stroke-width="1"/>
<line x1="348.49" y1="224.10" x2="353.29" y2="224.10" stroke="#222" stroke-width="1"/>
<rect x="346.19" y="208.10" width="9.40" height="9.30" fill="#4f5458" stroke="#3a3a3a" stroke-width="0.8"/>
<line x1="346.19" y1="213.00" x2="355.59" y2="213.00" stroke="#111213" stroke-width="1.3"/>
<ellipse cx="350.89" cy="186.80" rx="1.65" ry="1.3" fill="none" stroke="#151515" stroke-width="0.95"/>
<line x1="363.23" y1="196.30" x2="363.23" y2="205.20" stroke="#151515" stroke-width="1"/>
<line x1="363.23" y1="218.60" x2="363.23" y2="227.40" stroke="#151515" stroke-width="1"/>
<line x1="360.83" y1="196.30" x2="365.62" y2="196.30" stroke="#222" stroke-width="1"/>
<line x1="360.83" y1="227.40" x2="365.62" y2="227.40" stroke="#222" stroke-width="1"/>
<rect x="358.52" y="205.20" width="9.40" height="13.40" fill="#c6d83c" stroke="#3a3a3a" stroke-width="0.8"/>
<line x1="358.52" y1="212.20" x2="367.93" y2="212.20" stroke="#515c12" stroke-width="1.3"/>
<line x1="375.56" y1="194.40" x2="375.56" y2="206.00" stroke="#151515" stroke-width="1"/>
<line x1="375.56" y1="221.30" x2="375.56" y2="226.90" stroke="#151515" stroke-width="1"/>
<line x1="373.16" y1="194.40" x2="377.96" y2="194.40" stroke="#222" stroke-width="1"/>
<line x1="373.16" y1="226.90" x2="377.96" y2="226.90" stroke="#222" stroke-width="1"/>
<rect x="370.86" y="206.00" width="9.40" height="15.30" fill="#17a94d" stroke="#3a3a3a" stroke-width="0.8"/>
<line x1="370.86" y1="213.60" x2="380.26" y2="213.60" stroke="#0b4f24" stroke-width="1.3"/>
<line x1="387.89" y1="203.60" x2="387.89" y2="213.00" stroke="#151515" stroke-width="1"/>
<line x1="387.89" y1="225.50" x2="387.89" y2="227.70" stroke="#151515" stroke-width="1"/>
<line x1="385.49" y1="203.60" x2="390.29" y2="203.60" stroke="#222" stroke-width="1"/>
<line x1="385.49" y1="227.70" x2="390.29" y2="227.70" stroke="#222" stroke-width="1"/>
<rect x="383.19" y="213.00" width="9.40" height="12.50" fill="#1a6fbd" stroke="#3a3a3a" stroke-width="0.8"/>
<line x1="383.19" y1="221.90" x2="392.59" y2="221.90" stroke="#0b2f52" stroke-width="1.3"/>
<ellipse cx="387.89" cy="182.40" rx="1.65" ry="1.3" fill="none" stroke="#151515" stroke-width="0.95"/>
<line x1="400.22" y1="192.40" x2="400.22" y2="206.90" stroke="#151515" stroke-width="1"/>
<line x1="400.22" y1="224.70" x2="400.22" y2="225.50" stroke="#151515" stroke-width="1"/>
<line x1="397.82" y1="192.40" x2="402.62" y2="192.40" stroke="#222" stroke-width="1"/>
<line x1="397.82" y1="225.50" x2="402.62" y2="225.50" stroke="#222" stroke-width="1"/>
<rect x="395.52" y="206.90" width="9.40" height="17.80" fill="#c6d83c" stroke="#3a3a3a" stroke-width="0.8"/>
<line x1="395.52" y1="219.40" x2="404.92" y2="219.40" stroke="#515c12" stroke-width="1.3"/>
<line x1="412.56" y1="194.40" x2="412.56" y2="209.40" stroke="#151515" stroke-width="1"/>
<line x1="412.56" y1="222.70" x2="412.56" y2="227.70" stroke="#151515" stroke-width="1"/>
<line x1="410.16" y1="194.40" x2="414.96" y2="194.40" stroke="#222" stroke-width="1"/>
<line x1="410.16" y1="227.70" x2="414.96" y2="227.70" stroke="#222" stroke-width="1"/>
<rect x="407.86" y="209.40" width="9.40" height="13.30" fill="#a2207a" stroke="#3a3a3a" stroke-width="0.8"/>
<line x1="407.86" y1="212.40" x2="417.26" y2="212.40" stroke="#460e34" stroke-width="1.3"/>
<line x1="424.89" y1="195.80" x2="424.89" y2="214.30" stroke="#151515" stroke-width="1"/>
<line x1="424.89" y1="227.00" x2="424.89" y2="227.40" stroke="#151515" stroke-width="1"/>
<line x1="422.49" y1="195.80" x2="427.29" y2="195.80" stroke="#222" stroke-width="1"/>
<line x1="422.49" y1="227.40" x2="427.29" y2="227.40" stroke="#222" stroke-width="1"/>
<rect x="420.19" y="214.30" width="9.40" height="12.70" fill="#7b4f24" stroke="#3a3a3a" stroke-width="0.8"/>
<line x1="420.19" y1="226.40" x2="429.59" y2="226.40" stroke="#2e1c0c" stroke-width="1.3"/>
<ellipse cx="424.89" cy="191.00" rx="1.65" ry="1.3" fill="none" stroke="#151515" stroke-width="0.95"/>
<line x1="437.22" y1="198.30" x2="437.22" y2="208.00" stroke="#151515" stroke-width="1"/>
<line x1="437.22" y1="221.60" x2="437.22" y2="224.70" stroke="#151515" stroke-width="1"/>
<line x1="434.82" y1="198.30" x2="439.62" y2="198.30" stroke="#222" stroke-width="1"/>
<line x1="434.82" y1="224.70" x2="439.62" y2="224.70" stroke="#222" stroke-width="1"/>
<rect x="432.52" y="208.00" width="9.40" height="13.60" fill="#c6d83c" stroke="#3a3a3a" stroke-width="0.8"/>
<line x1="432.52" y1="213.30" x2="441.92" y2="213.30" stroke="#515c12" stroke-width="1.3"/>
<line x1="449.56" y1="206.60" x2="449.56" y2="217.20" stroke="#151515" stroke-width="1"/>
<line x1="449.56" y1="226.00" x2="449.56" y2="228.30" stroke="#151515" stroke-width="1"/>
<line x1="447.16" y1="206.60" x2="451.96" y2="206.60" stroke="#222" stroke-width="1"/>
<line x1="447.16" y1="228.30" x2="451.96" y2="228.30" stroke="#222" stroke-width="1"/>
<rect x="444.86" y="217.20" width="9.40" height="8.80" fill="#7b4f24" stroke="#3a3a3a" stroke-width="0.8"/>
<line x1="444.86" y1="225.30" x2="454.26" y2="225.30" stroke="#2e1c0c" stroke-width="1.3"/>
<ellipse cx="449.56" cy="190.70" rx="1.65" ry="1.3" fill="none" stroke="#151515" stroke-width="0.95"/>
<ellipse cx="449.56" cy="194.30" rx="1.65" ry="1.3" fill="none" stroke="#151515" stroke-width="0.95"/>
<ellipse cx="449.56" cy="199.30" rx="1.65" ry="1.3" fill="none" stroke="#151515" stroke-width="0.95"/>
<line x1="461.89" y1="206.00" x2="461.89" y2="216.30" stroke="#151515" stroke-width="1"/>
<line x1="461.89" y1="226.90" x2="461.89" y2="228.30" stroke="#151515" stroke-width="1"/>
<line x1="459.49" y1="206.00" x2="464.29" y2="206.00" stroke="#222" stroke-width="1"/>
<line x1="459.49" y1="228.30" x2="464.29" y2="228.30" stroke="#222" stroke-width="1"/>
<rect x="457.19" y="216.30" width="9.40" height="10.60" fill="#c6d83c" stroke="#3a3a3a" stroke-width="0.8"/>
<line x1="457.19" y1="224.10" x2="466.59" y2="224.10" stroke="#515c12" stroke-width="1.3"/>
<circle cx="461.89" cy="185.20" r="1.0" fill="#151515"/>
<line x1="474.22" y1="196.90" x2="474.22" y2="208.30" stroke="#151515" stroke-width="1"/>
<line x1="474.22" y1="225.50" x2="474.22" y2="228.30" stroke="#151515" stroke-width="1"/>
<line x1="471.82" y1="196.90" x2="476.62" y2="196.90" stroke="#222" stroke-width="1"/>
<line x1="471.82" y1="228.30" x2="476.62" y2="228.30" stroke="#222" stroke-width="1"/>
<rect x="469.52" y="208.30" width="9.40" height="17.20" fill="#2cb5e4" stroke="#3a3a3a" stroke-width="0.8"/>
<line x1="469.52" y1="217.70" x2="478.92" y2="217.70" stroke="#124e63" stroke-width="1.3"/>
<line x1="486.56" y1="203.30" x2="486.56" y2="211.60" stroke="#151515" stroke-width="1"/>
<line x1="486.56" y1="221.30" x2="486.56" y2="226.30" stroke="#151515" stroke-width="1"/>
<line x1="484.16" y1="203.30" x2="488.96" y2="203.30" stroke="#222" stroke-width="1"/>
<line x1="484.16" y1="226.30" x2="488.96" y2="226.30" stroke="#222" stroke-width="1"/>
<rect x="481.86" y="211.60" width="9.40" height="9.70" fill="#17a94d" stroke="#3a3a3a" stroke-width="0.8"/>
<line x1="481.86" y1="215.80" x2="491.26" y2="215.80" stroke="#0b4f24" stroke-width="1.3"/>
<ellipse cx="486.56" cy="193.00" rx="1.65" ry="1.3" fill="none" stroke="#151515" stroke-width="0.95"/>
<line x1="498.89" y1="196.30" x2="498.89" y2="210.80" stroke="#151515" stroke-width="1"/>
<line x1="498.89" y1="224.70" x2="498.89" y2="229.10" stroke="#151515" stroke-width="1"/>
<line x1="496.49" y1="196.30" x2="501.29" y2="196.30" stroke="#222" stroke-width="1"/>
<line x1="496.49" y1="229.10" x2="501.29" y2="229.10" stroke="#222" stroke-width="1"/>
<rect x="494.19" y="210.80" width="9.40" height="13.90" fill="#146b3c" stroke="#3a3a3a" stroke-width="0.8"/>
<line x1="494.19" y1="216.30" x2="503.59" y2="216.30" stroke="#06301a" stroke-width="1.3"/>
<line x1="511.22" y1="199.10" x2="511.22" y2="212.20" stroke="#151515" stroke-width="1"/>
<line x1="511.22" y1="224.70" x2="511.22" y2="226.30" stroke="#151515" stroke-width="1"/>
<line x1="508.82" y1="199.10" x2="513.62" y2="199.10" stroke="#222" stroke-width="1"/>
<line x1="508.82" y1="226.30" x2="513.62" y2="226.30" stroke="#222" stroke-width="1"/>
<rect x="506.52" y="212.20" width="9.40" height="12.50" fill="#7b4f24" stroke="#3a3a3a" stroke-width="0.8"/>
<line x1="506.52" y1="217.20" x2="515.92" y2="217.20" stroke="#2e1c0c" stroke-width="1.3"/>
<line x1="523.55" y1="200.50" x2="523.55" y2="214.40" stroke="#151515" stroke-width="1"/>
<line x1="523.55" y1="224.70" x2="523.55" y2="227.70" stroke="#151515" stroke-width="1"/>
<line x1="521.15" y1="200.50" x2="525.95" y2="200.50" stroke="#222" stroke-width="1"/>
<line x1="521.15" y1="227.70" x2="525.95" y2="227.70" stroke="#222" stroke-width="1"/>
<rect x="518.85" y="214.40" width="9.40" height="10.30" fill="#1a6fbd" stroke="#3a3a3a" stroke-width="0.8"/>
<line x1="518.85" y1="219.90" x2="528.25" y2="219.90" stroke="#0b2f52" stroke-width="1.3"/>
<ellipse cx="523.55" cy="195.50" rx="1.65" ry="1.3" fill="none" stroke="#151515" stroke-width="0.95"/>
<line x1="535.89" y1="202.40" x2="535.89" y2="211.60" stroke="#151515" stroke-width="1"/>
<line x1="535.89" y1="219.90" x2="535.89" y2="224.70" stroke="#151515" stroke-width="1"/>
<line x1="533.49" y1="202.40" x2="538.29" y2="202.40" stroke="#222" stroke-width="1"/>
<line x1="533.49" y1="224.70" x2="538.29" y2="224.70" stroke="#222" stroke-width="1"/>
<rect x="531.19" y="211.60" width="9.40" height="8.30" fill="#84c996" stroke="#3a3a3a" stroke-width="0.8"/>
<line x1="531.19" y1="215.80" x2="540.59" y2="215.80" stroke="#3a5a42" stroke-width="1.3"/>
<line x1="548.22" y1="201.30" x2="548.22" y2="211.60" stroke="#151515" stroke-width="1"/>
<line x1="548.22" y1="223.30" x2="548.22" y2="229.10" stroke="#151515" stroke-width="1"/>
<line x1="545.82" y1="201.30" x2="550.62" y2="201.30" stroke="#222" stroke-width="1"/>
<line x1="545.82" y1="229.10" x2="550.62" y2="229.10" stroke="#222" stroke-width="1"/>
<rect x="543.52" y="211.60" width="9.40" height="11.70" fill="#7a5fa6" stroke="#3a3a3a" stroke-width="0.8"/>
<line x1="543.52" y1="217.20" x2="552.92" y2="217.20" stroke="#2c2040" stroke-width="1.3"/>
<line x1="560.55" y1="200.40" x2="560.55" y2="212.40" stroke="#151515" stroke-width="1"/>
<line x1="560.55" y1="222.70" x2="560.55" y2="226.30" stroke="#151515" stroke-width="1"/>
<line x1="558.15" y1="200.40" x2="562.95" y2="200.40" stroke="#222" stroke-width="1"/>
<line x1="558.15" y1="226.30" x2="562.95" y2="226.30" stroke="#222" stroke-width="1"/>
<rect x="555.85" y="212.40" width="9.40" height="10.30" fill="#c6d83c" stroke="#3a3a3a" stroke-width="0.8"/>
<line x1="555.85" y1="218.60" x2="565.25" y2="218.60" stroke="#515c12" stroke-width="1.3"/>
<ellipse cx="560.55" cy="197.50" rx="1.65" ry="1.3" fill="none" stroke="#151515" stroke-width="0.95"/>
<line x1="572.89" y1="206.00" x2="572.89" y2="217.20" stroke="#151515" stroke-width="1"/>
<line x1="572.89" y1="226.10" x2="572.89" y2="226.10" stroke="#151515" stroke-width="1"/>
<line x1="570.49" y1="206.00" x2="575.29" y2="206.00" stroke="#222" stroke-width="1"/>
<line x1="570.49" y1="226.10" x2="575.29" y2="226.10" stroke="#222" stroke-width="1"/>
<rect x="568.19" y="217.20" width="9.40" height="8.90" fill="#c6d83c" stroke="#3a3a3a" stroke-width="0.8"/>
<line x1="568.19" y1="225.00" x2="577.59" y2="225.00" stroke="#515c12" stroke-width="1.3"/>
<circle cx="572.89" cy="190.00" r="1.0" fill="#151515"/>
<line x1="585.22" y1="199.70" x2="585.22" y2="212.40" stroke="#151515" stroke-width="1"/>
<line x1="585.22" y1="223.60" x2="585.22" y2="226.30" stroke="#151515" stroke-width="1"/>
<line x1="582.82" y1="199.70" x2="587.62" y2="199.70" stroke="#222" stroke-width="1"/>
<line x1="582.82" y1="226.30" x2="587.62" y2="226.30" stroke="#222" stroke-width="1"/>
<rect x="580.52" y="212.40" width="9.40" height="11.20" fill="#c6d83c" stroke="#3a3a3a" stroke-width="0.8"/>
<line x1="580.52" y1="219.10" x2="589.92" y2="219.10" stroke="#515c12" stroke-width="1.3"/>
<line x1="597.55" y1="204.70" x2="597.55" y2="217.40" stroke="#151515" stroke-width="1"/>
<line x1="597.55" y1="226.20" x2="597.55" y2="227.40" stroke="#151515" stroke-width="1"/>
<line x1="595.15" y1="204.70" x2="599.95" y2="204.70" stroke="#222" stroke-width="1"/>
<line x1="595.15" y1="227.40" x2="599.95" y2="227.40" stroke="#222" stroke-width="1"/>
<rect x="592.85" y="217.40" width="9.40" height="8.80" fill="#7b4f24" stroke="#3a3a3a" stroke-width="0.8"/>
<line x1="592.85" y1="222.20" x2="602.25" y2="222.20" stroke="#2e1c0c" stroke-width="1.3"/>
<ellipse cx="597.55" cy="199.70" rx="1.65" ry="1.3" fill="none" stroke="#151515" stroke-width="0.95"/>
<path d="M597.55 201.20L599.85 204.80L595.25 204.80Z" fill="#151515"/>
<line x1="609.88" y1="207.40" x2="609.88" y2="215.20" stroke="#151515" stroke-width="1"/>
<line x1="609.88" y1="222.70" x2="609.88" y2="226.90" stroke="#151515" stroke-width="1"/>
<line x1="607.49" y1="207.40" x2="612.28" y2="207.40" stroke="#222" stroke-width="1"/>
<line x1="607.49" y1="226.90" x2="612.28" y2="226.90" stroke="#222" stroke-width="1"/>
<rect x="605.18" y="215.20" width="9.40" height="7.50" fill="#7a5fa6" stroke="#3a3a3a" stroke-width="0.8"/>
<line x1="605.18" y1="219.30" x2="614.59" y2="219.30" stroke="#2c2040" stroke-width="1.3"/>
<circle cx="609.88" cy="198.40" r="1.2" fill="none" stroke="#151515" stroke-width="1.1"/>
<circle cx="609.88" cy="200.80" r="1.2" fill="none" stroke="#151515" stroke-width="1.1"/>
<line x1="622.22" y1="213.00" x2="622.22" y2="219.70" stroke="#151515" stroke-width="1"/>
<line x1="622.22" y1="224.10" x2="622.22" y2="226.90" stroke="#151515" stroke-width="1"/>
<line x1="619.82" y1="213.00" x2="624.62" y2="213.00" stroke="#222" stroke-width="1"/>
<line x1="619.82" y1="226.90" x2="624.62" y2="226.90" stroke="#222" stroke-width="1"/>
<rect x="617.52" y="219.70" width="9.40" height="4.40" fill="#c6d83c" stroke="#3a3a3a" stroke-width="0.8"/>
<line x1="617.52" y1="222.50" x2="626.92" y2="222.50" stroke="#515c12" stroke-width="1.3"/>
<circle cx="622.22" cy="191.10" r="1.0" fill="#151515"/>
<ellipse cx="622.22" cy="211.30" rx="1.65" ry="1.3" fill="none" stroke="#151515" stroke-width="0.95"/>
<line x1="634.55" y1="201.30" x2="634.55" y2="213.00" stroke="#151515" stroke-width="1"/>
<line x1="634.55" y1="225.50" x2="634.55" y2="228.30" stroke="#151515" stroke-width="1"/>
<line x1="632.15" y1="201.30" x2="636.95" y2="201.30" stroke="#222" stroke-width="1"/>
<line x1="632.15" y1="228.30" x2="636.95" y2="228.30" stroke="#222" stroke-width="1"/>
<rect x="629.85" y="213.00" width="9.40" height="12.50" fill="#2c3c98" stroke="#3a3a3a" stroke-width="0.8"/>
<line x1="629.85" y1="221.20" x2="639.25" y2="221.20" stroke="#10183f" stroke-width="1.3"/>
<line x1="646.88" y1="203.00" x2="646.88" y2="214.90" stroke="#151515" stroke-width="1"/>
<line x1="646.88" y1="224.60" x2="646.88" y2="226.70" stroke="#151515" stroke-width="1"/>
<line x1="644.48" y1="203.00" x2="649.28" y2="203.00" stroke="#222" stroke-width="1"/>
<line x1="644.48" y1="226.70" x2="649.28" y2="226.70" stroke="#222" stroke-width="1"/>
<rect x="642.18" y="214.90" width="9.40" height="9.70" fill="#c6d83c" stroke="#3a3a3a" stroke-width="0.8"/>
<line x1="642.18" y1="221.80" x2="651.58" y2="221.80" stroke="#515c12" stroke-width="1.3"/>
<ellipse cx="646.88" cy="197.80" rx="1.65" ry="1.3" fill="none" stroke="#151515" stroke-width="0.95"/>
<line x1="659.22" y1="211.10" x2="659.22" y2="215.80" stroke="#151515" stroke-width="1"/>
<line x1="659.22" y1="228.00" x2="659.22" y2="229.10" stroke="#151515" stroke-width="1"/>
<line x1="656.82" y1="211.10" x2="661.62" y2="211.10" stroke="#222" stroke-width="1"/>
<line x1="656.82" y1="229.10" x2="661.62" y2="229.10" stroke="#222" stroke-width="1"/>
<rect x="654.52" y="215.80" width="9.40" height="12.20" fill="#2cb5e4" stroke="#3a3a3a" stroke-width="0.8"/>
<line x1="654.52" y1="226.40" x2="663.92" y2="226.40" stroke="#124e63" stroke-width="1.3"/>
<ellipse cx="659.22" cy="196.10" rx="1.65" ry="1.3" fill="none" stroke="#151515" stroke-width="0.95"/>
<line x1="671.55" y1="198.90" x2="671.55" y2="202.40" stroke="#151515" stroke-width="1"/>
<line x1="671.55" y1="208.60" x2="671.55" y2="212.40" stroke="#151515" stroke-width="1"/>
<line x1="669.15" y1="198.90" x2="673.95" y2="198.90" stroke="#222" stroke-width="1"/>
<line x1="669.15" y1="212.40" x2="673.95" y2="212.40" stroke="#222" stroke-width="1"/>
<rect x="666.85" y="202.40" width="9.40" height="6.20" fill="#d2d2d2" stroke="#3a3a3a" stroke-width="0.8"/>
<line x1="666.85" y1="205.60" x2="676.25" y2="205.60" stroke="#666666" stroke-width="1.3"/>
<ellipse cx="671.55" cy="193.60" rx="1.65" ry="1.3" fill="none" stroke="#151515" stroke-width="0.95"/>
<ellipse cx="671.55" cy="216.30" rx="1.65" ry="1.3" fill="none" stroke="#151515" stroke-width="0.95"/>
<text transform="translate(52.40,242) rotate(90) scale(0.75,1)" font-size="8.2" font-style="italic" stroke="#1a1a1a" stroke-width="0.07">Prevotella*</text>
<text transform="translate(64.73,242) rotate(90) scale(0.75,1)" font-size="8.2" font-style="italic" stroke="#1a1a1a" stroke-width="0.07">Fusobacterium</text>
<text transform="translate(77.07,242) rotate(90) scale(0.75,1)" font-size="8.2" font-style="italic" stroke="#1a1a1a" stroke-width="0.07">Porphyromonas</text>
<text transform="translate(89.40,242) rotate(90) scale(0.75,1)" font-size="8.2" font-style="italic" stroke="#1a1a1a" stroke-width="0.07">Streptococcus</text>
<text transform="translate(101.73,242) rotate(90) scale(0.75,1)" font-size="8.2" font-style="italic" stroke="#1a1a1a" stroke-width="0.07">Tannerella</text>
<text transform="translate(114.06,242) rotate(90) scale(0.75,1)" font-size="8.2" font-style="italic" stroke="#1a1a1a" stroke-width="0.07">Alloprevotella</text>
<text transform="translate(126.40,242) rotate(90) scale(0.75,1)" font-size="8.2" font-style="italic" stroke="#1a1a1a" stroke-width="0.07">Treponema</text>
<text transform="translate(138.73,242) rotate(90) scale(0.75,1)" font-size="8.2" font-style="italic" stroke="#1a1a1a" stroke-width="0.07">Veillonella</text>
<text transform="translate(151.06,242) rotate(90) scale(0.75,1)" font-size="8.2" font-style="italic" stroke="#1a1a1a" stroke-width="0.07">Leptotrichia</text>
<text transform="translate(163.40,242) rotate(90) scale(0.75,1)" font-size="8.2" font-style="italic" stroke="#1a1a1a" stroke-width="0.07">Selenomonas</text>
<text transform="translate(175.73,242) rotate(90) scale(0.75,1)" font-size="8.2" font-style="italic" stroke="#1a1a1a" stroke-width="0.07">Capnocytophaga</text>
<text transform="translate(188.06,242) rotate(90) scale(0.75,1)" font-size="8.2" font-style="italic" stroke="#1a1a1a" stroke-width="0.07">Lactobacillus*</text>
<text transform="translate(200.40,242) rotate(90) scale(0.75,1)" font-size="8.2" font-style="italic" stroke="#1a1a1a" stroke-width="0.07">Neisseria</text>
<text transform="translate(212.73,242) rotate(90) scale(0.75,1)" font-size="8.2" font-style="italic" stroke="#1a1a1a" stroke-width="0.07">Rothia</text>
<text transform="translate(225.06,242) rotate(90) scale(0.75,1)" font-size="8.2" font-style="italic" stroke="#1a1a1a" stroke-width="0.07">Gemella</text>
<text transform="translate(237.40,242) rotate(90) scale(0.75,1)" font-size="8.2" font-style="italic" stroke="#1a1a1a" stroke-width="0.07">Anaeroglobus</text>
<text transform="translate(249.73,242) rotate(90) scale(0.75,1)" font-size="8.2" font-style="italic" stroke="#1a1a1a" stroke-width="0.07">Campylobacter</text>
<text transform="translate(262.06,242) rotate(90) scale(0.75,1)" font-size="8.2" font-style="italic" stroke="#1a1a1a" stroke-width="0.07">Parvimonas</text>
<text transform="translate(274.39,242) rotate(90) scale(0.75,1)" font-size="8.2" font-style="italic" stroke="#1a1a1a" stroke-width="0.07">Haemophilus</text>
<text transform="translate(286.73,242) rotate(90) scale(0.75,1)" font-size="8.2" font-style="italic" stroke="#1a1a1a" stroke-width="0.07">Lancefieldella</text>
<text transform="translate(299.06,242) rotate(90) scale(0.75,1)" font-size="8.2" font-style="italic" stroke="#1a1a1a" stroke-width="0.07">Actinomyces*</text>
<text transform="translate(311.39,242) rotate(90) scale(0.75,1)" font-size="8.2" font-style="italic" stroke="#1a1a1a" stroke-width="0.07">Dialister</text>
<text transform="translate(323.73,242) rotate(90) scale(0.75,1)" font-size="8.2" font-style="italic" stroke="#1a1a1a" stroke-width="0.07">Mitsuokella</text>
<text transform="translate(336.06,242) rotate(90) scale(0.75,1)" font-size="8.2" font-style="italic" stroke="#1a1a1a" stroke-width="0.07">Bacteroidales_G2</text>
<text transform="translate(348.39,242) rotate(90) scale(0.75,1)" font-size="8.2" font-style="italic" stroke="#1a1a1a" stroke-width="0.07">TM7_G1</text>
<text transform="translate(360.73,242) rotate(90) scale(0.75,1)" font-size="8.2" font-style="italic" stroke="#1a1a1a" stroke-width="0.07">Mogibacterium</text>
<text transform="translate(373.06,242) rotate(90) scale(0.75,1)" font-size="8.2" font-style="italic" stroke="#1a1a1a" stroke-width="0.07">Abiotrophia</text>
<text transform="translate(385.39,242) rotate(90) scale(0.75,1)" font-size="8.2" font-style="italic" stroke="#1a1a1a" stroke-width="0.07">Cardiobacterium</text>
<text transform="translate(397.72,242) rotate(90) scale(0.75,1)" font-size="8.2" font-style="italic" stroke="#1a1a1a" stroke-width="0.07">Peptostreptococcus</text>
<text transform="translate(410.06,242) rotate(90) scale(0.75,1)" font-size="8.2" font-style="italic" stroke="#1a1a1a" stroke-width="0.07">Pyramidobacter</text>
<text transform="translate(422.39,242) rotate(90) scale(0.75,1)" font-size="8.2" font-style="italic" stroke="#1a1a1a" stroke-width="0.07">Scardovia</text>
<text transform="translate(434.72,242) rotate(90) scale(0.75,1)" font-size="8.2" font-style="italic" stroke="#1a1a1a" stroke-width="0.07">Oribacterium</text>
<text transform="translate(447.06,242) rotate(90) scale(0.75,1)" font-size="8.2" font-style="italic" stroke="#1a1a1a" stroke-width="0.07">Actinobaculum</text>
<text transform="translate(459.39,242) rotate(90) scale(0.75,1)" font-size="8.2" font-style="italic" stroke="#1a1a1a" stroke-width="0.07">Catonella</text>
<text transform="translate(471.72,242) rotate(90) scale(0.75,1)" font-size="8.2" font-style="italic" stroke="#1a1a1a" stroke-width="0.07">Kingella</text>
<text transform="translate(484.06,242) rotate(90) scale(0.75,1)" font-size="8.2" font-style="italic" stroke="#1a1a1a" stroke-width="0.07">Granulicatella</text>
<text transform="translate(496.39,242) rotate(90) scale(0.75,1)" font-size="8.2" font-style="italic" stroke="#1a1a1a" stroke-width="0.07">Mycoplasma</text>
<text transform="translate(508.72,242) rotate(90) scale(0.75,1)" font-size="8.2" font-style="italic" stroke="#1a1a1a" stroke-width="0.07">Bifidobacterium</text>
<text transform="translate(521.05,242) rotate(90) scale(0.75,1)" font-size="8.2" font-style="italic" stroke="#1a1a1a" stroke-width="0.07">Aggregatibacter</text>
<text transform="translate(533.39,242) rotate(90) scale(0.75,1)" font-size="8.2" font-style="italic" stroke="#1a1a1a" stroke-width="0.07">Solobacterium</text>
<text transform="translate(545.72,242) rotate(90) scale(0.75,1)" font-size="8.2" font-style="italic" stroke="#1a1a1a" stroke-width="0.07">Centipeda</text>
<text transform="translate(558.05,242) rotate(90) scale(0.75,1)" font-size="8.2" font-style="italic" stroke="#1a1a1a" stroke-width="0.07">Lachnoanaerobaculum</text>
<text transform="translate(570.39,242) rotate(90) scale(0.75,1)" font-size="8.2" font-style="italic" stroke="#1a1a1a" stroke-width="0.07">Stomatobaculum</text>
<text transform="translate(582.72,242) rotate(90) scale(0.75,1)" font-size="8.2" font-style="italic" stroke="#1a1a1a" stroke-width="0.07">Pseudoramibacter</text>
<text transform="translate(595.05,242) rotate(90) scale(0.75,1)" font-size="8.2" font-style="italic" stroke="#1a1a1a" stroke-width="0.07">Corynebacterium</text>
<text transform="translate(607.38,242) rotate(90) scale(0.75,1)" font-size="8.2" font-style="italic" stroke="#1a1a1a" stroke-width="0.07">Megasphaera</text>
<text transform="translate(619.72,242) rotate(90) scale(0.75,1)" font-size="8.2" font-style="italic" stroke="#1a1a1a" stroke-width="0.07">Peptoniphilaceae_G1</text>
<text transform="translate(632.05,242) rotate(90) scale(0.75,1)" font-size="8.2" font-style="italic" stroke="#1a1a1a" stroke-width="0.07">Desulfobulbus</text>
<text transform="translate(644.38,242) rotate(90) scale(0.75,1)" font-size="8.2" font-style="italic" stroke="#1a1a1a" stroke-width="0.07">Peptoniphilus</text>
<text transform="translate(656.72,242) rotate(90) scale(0.75,1)" font-size="8.2" font-style="italic" stroke="#1a1a1a" stroke-width="0.07">Lautropia</text>
<text transform="translate(669.05,242) rotate(90) scale(0.75,1)" font-size="8.2" font-style="normal" stroke="#1a1a1a" stroke-width="0.07">Other</text>
<text x="37.4" y="338.1" font-size="8.7" font-weight="bold" style="fill:#000">Class</text>
<rect x="75.9" y="314.00" width="5.3" height="5.2" fill="#e41e3a"/>
<text x="85.2" y="319.00" font-size="8.5" font-style="italic">Bacteroidia</text>
<rect x="75.9" y="333.10" width="5.3" height="5.2" fill="#f7941d"/>
<text x="85.2" y="338.10" font-size="8.5" font-style="italic">Fusobacteriia</text>
<rect x="75.9" y="352.80" width="5.3" height="5.2" fill="#17a94d"/>
<text x="85.2" y="357.80" font-size="8.5" font-style="italic">Bacilli</text>
<rect x="142.2" y="314.00" width="5.3" height="5.2" fill="#ebe53a"/>
<text x="151.7" y="319.00" font-size="8.5" font-style="italic">Spirochaetia</text>
<rect x="142.2" y="333.10" width="5.3" height="5.2" fill="#7a5fa6"/>
<text x="151.7" y="338.10" font-size="8.5" font-style="italic">Negativicutes</text>
<rect x="142.2" y="352.80" width="5.3" height="5.2" fill="#e8288a"/>
<text x="151.7" y="357.80" font-size="8.5" font-style="italic">Flavobacteriia</text>
<rect x="216.3" y="314.00" width="5.3" height="5.2" fill="#2cb5e4"/>
<text x="223.8" y="319.00" font-size="8.5" font-style="italic">Betaproteobacteria</text>
<rect x="216.3" y="333.10" width="5.3" height="5.2" fill="#7b4f24"/>
<text x="223.8" y="338.10" font-size="8.5" font-style="italic">Actinobacteria</text>
<rect x="216.3" y="352.80" width="5.3" height="5.2" fill="#0f4e56"/>
<text x="223.8" y="357.80" font-size="8.5" font-style="italic">Epsilonproteobacteria</text>
<rect x="316.1" y="314.00" width="5.3" height="5.2" fill="#c6d83c"/>
<text x="323.9" y="319.00" font-size="8.5" font-style="italic">Clostridia</text>
<rect x="316.1" y="333.10" width="5.3" height="5.2" fill="#1a6fbd"/>
<text x="323.9" y="338.10" font-size="8.5" font-style="italic">Gammaproteobacteria</text>
<rect x="316.1" y="352.80" width="5.3" height="5.2" fill="#c99f7b"/>
<text x="323.9" y="357.80" font-size="8.5" font-style="italic">Coriobacteriia</text>
<rect x="417.6" y="314.00" width="5.3" height="5.2" fill="#8b0f1d"/>
<text x="425.1" y="319.00" font-size="8.5" font-style="italic">Bacteroidetes [C]</text>
<rect x="417.6" y="333.10" width="5.3" height="5.2" fill="#4f5458"/>
<text x="425.1" y="338.10" font-size="8.5" font-style="italic">Saccharibacteria (TM7)</text>
<rect x="417.6" y="352.80" width="5.3" height="5.2" fill="#a2207a"/>
<text x="425.1" y="357.80" font-size="8.5" font-style="italic">Synergistia</text>
<rect x="524.1" y="314.00" width="5.3" height="5.2" fill="#146b3c"/>
<text x="535.2" y="319.00" font-size="8.5" font-style="italic">Mollicutes</text>
<rect x="524.1" y="333.10" width="5.3" height="5.2" fill="#84c996"/>
<text x="535.2" y="338.10" font-size="8.5" font-style="italic">Erysipelotrichia</text>
<rect x="524.1" y="352.80" width="5.3" height="5.2" fill="#2c3c98"/>
<text x="535.2" y="357.80" font-size="8.5" font-style="italic">Deltaproteobacteria</text>
<rect x="622.6" y="332.90" width="5.3" height="5.2" fill="#a39189"/>
<text x="631.5" y="337.60" font-size="8.5">other classes<tspan font-size="5.5" dy="-3">§</tspan></text>
</svg></body></html>
